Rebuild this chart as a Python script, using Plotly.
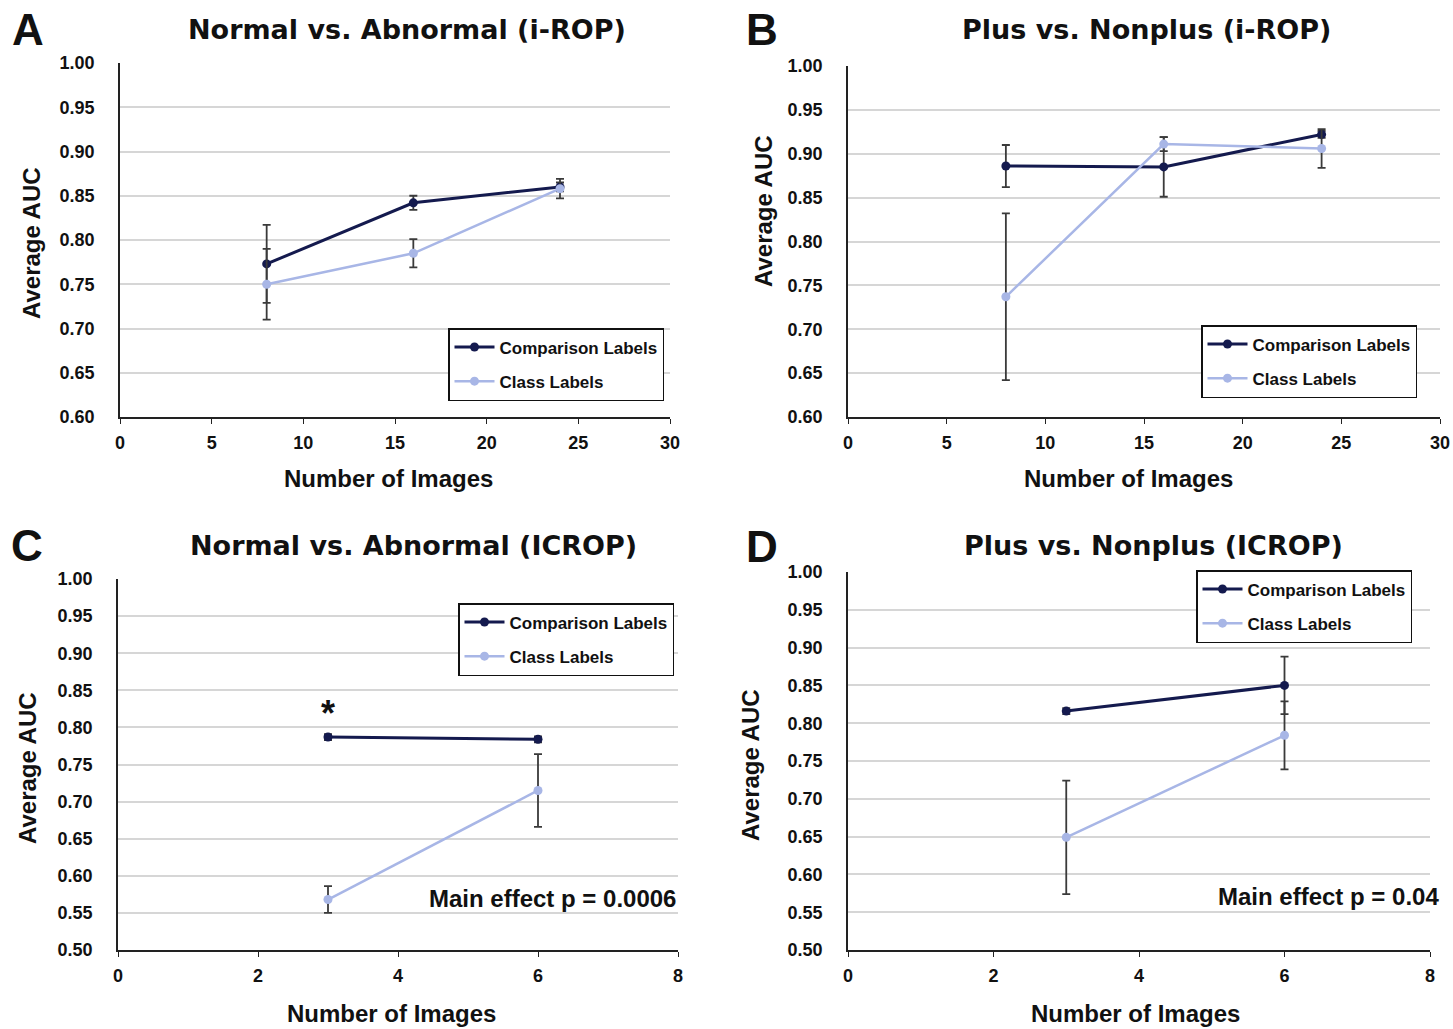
import plotly.graph_objects as go

W, H = 1453, 1029

# ---- data ----
x_irop = [8, 16, 24]
x_icrop = [3, 6]

a_comp = [0.773, 0.842, 0.860]
a_comp_err = [0.044, 0.008, 0.005]
a_class = [0.750, 0.785, 0.858]
a_class_err = [0.040, 0.016, 0.011]

b_comp = [0.886, 0.885, 0.922]
b_comp_err = [0.024, 0.034, 0.004]
b_class = [0.737, 0.911, 0.906]
b_class_err = [0.095, 0.008, 0.022]

c_comp = [0.787, 0.784]
c_comp_err = [0.004, 0.004]
c_class = [0.568, 0.715]
c_class_err = [0.018, 0.049]

d_comp = [0.816, 0.850]
d_comp_err = [0.004, 0.038]
d_class = [0.649, 0.784]
d_class_err = [0.075, 0.045]

titles = ["Normal vs. Abnormal (i-ROP)", "Plus vs. Nonplus (i-ROP)",
          "Normal vs. Abnormal (ICROP)", "Plus vs. Nonplus (ICROP)"]
letters = ["A", "B", "C", "D"]
series_names = ["Comparison Labels", "Class Labels"]

COMP = "#141a4e"
CLASS = "#a8b6e6"
ERR = "#3a3a3a"
FONT = "Liberation Sans, Arial, sans-serif"
TFONT = "DejaVu Sans, Liberation Sans, sans-serif"

def px_x(p):
    return p / W

def px_y(p):
    return 1 - p / H

# plot area pixel boxes: (x0, x1, ytop, ybottom)
boxes = [(120, 670, 63, 417), (848, 1440, 66, 417), (118, 678, 579, 950), (848, 1430, 572, 950)]
legend_boxes = [(448, 328), (1201, 325), (458, 603), (1196, 570)]
title_pos = [(407, 30), (1146, 30), (413, 545), (1153, 545)]
letter_pos = [(28, 30), (762, 30), (27, 545), (762, 546)]
ytitle_pos = [(32, 243), (763, 211), (27, 768), (750, 765)]
xtitle_pos = [(388, 479), (1128, 479), (392, 1013), (1135, 1013)]

panels = [
    (x_irop, a_comp, a_comp_err, a_class, a_class_err, [0, 30], 5, [0.6, 1.0]),
    (x_irop, b_comp, b_comp_err, b_class, b_class_err, [0, 30], 5, [0.6, 1.0]),
    (x_icrop, c_comp, c_comp_err, c_class, c_class_err, [0, 8], 2, [0.5, 1.0]),
    (x_icrop, d_comp, d_comp_err, d_class, d_class_err, [0, 8], 2, [0.5, 1.0]),
]

fig = go.Figure()
layout = dict(
    width=W, height=H, margin=dict(l=0, r=0, t=0, b=0, autoexpand=False),
    paper_bgcolor="white", plot_bgcolor="white",
    font=dict(family=FONT, color="#111111"),
    showlegend=True,
)
annotations = []

for i, (xs, comp, comp_e, cls, cls_e, xr, dt, yr) in enumerate(panels):
    n = i + 1
    xa = "x" if n == 1 else f"x{n}"
    ya = "y" if n == 1 else f"y{n}"
    leg = "legend" if n == 1 else f"legend{n}"
    for k, (name, vals, errs, col, w) in enumerate([
        (series_names[0], comp, comp_e, COMP, 3),
        (series_names[1], cls, cls_e, CLASS, 2.5),
    ]):
        fig.add_trace(go.Scatter(
            x=xs, y=vals, name=name, mode="lines+markers",
            line=dict(color=col, width=w),
            marker=dict(color=col, size=9),
            error_y=dict(type="data", array=errs, visible=True,
                         color=ERR, thickness=1.8, width=4),
            xaxis=xa, yaxis=ya, legend=leg, legendgroup=f"g{n}{k}",
        ))
    x0, x1, yt, yb = boxes[i]
    layout["xaxis" if n == 1 else f"xaxis{n}"] = dict(
        domain=[px_x(x0), px_x(x1)], range=xr, dtick=dt, tick0=0,
        showgrid=False, zeroline=False, showline=True, linecolor="#222222",
        linewidth=1.5, ticks="outside", ticklen=5, tickcolor="#222222",
        ticklabelstandoff=4,
        tickfont=dict(size=18, family=FONT, color="#111111", weight="bold"),
        anchor=ya, fixedrange=True, automargin=False,
    )
    layout["yaxis" if n == 1 else f"yaxis{n}"] = dict(
        domain=[px_y(yb), px_y(yt)], range=yr, dtick=0.05, tick0=0,
        tickformat=".2f", showgrid=True, gridcolor="#d6d6d6", gridwidth=1.8,
        zeroline=False, showline=True, linecolor="#222222", linewidth=1.5,
        ticks="", ticklabelstandoff=20,
        tickfont=dict(size=18, family=FONT, color="#111111", weight="bold"),
        anchor=xa, fixedrange=True, automargin=False,
    )
    lx, ly = legend_boxes[i]
    layout[leg] = dict(
        x=px_x(lx), y=px_y(ly), xanchor="left", yanchor="top",
        bgcolor="white", bordercolor="#111111", borderwidth=1.5,
        font=dict(size=17, family=FONT, color="#111111", weight="bold"),
        traceorder="grouped", tracegroupgap=9, itemwidth=40,
    )
    tx, ty = title_pos[i]
    annotations.append(dict(
        text=titles[i], x=px_x(tx), y=px_y(ty),
        xref="paper", yref="paper", showarrow=False, xanchor="center", yanchor="middle",
        font=dict(size=27, family=TFONT, color="#111111", weight="bold"),
    ))
    lx2, ly2 = letter_pos[i]
    annotations.append(dict(
        text=letters[i], x=px_x(lx2), y=px_y(ly2), xref="paper", yref="paper",
        showarrow=False, xanchor="center", yanchor="middle",
        font=dict(size=44, family=FONT, color="#111111", weight="bold"),
    ))
    yx, yy = ytitle_pos[i]
    annotations.append(dict(
        text="Average AUC", x=px_x(yx), y=px_y(yy), xref="paper", yref="paper",
        showarrow=False, textangle=-90, xanchor="center", yanchor="middle",
        font=dict(size=24, family=FONT, color="#111111", weight="bold"),
    ))
    xx, xy = xtitle_pos[i]
    annotations.append(dict(
        text="Number of Images", x=px_x(xx), y=px_y(xy), xref="paper", yref="paper",
        showarrow=False, xanchor="center", yanchor="middle",
        font=dict(size=24, family=FONT, color="#111111", weight="bold"),
    ))

annotations.append(dict(
    text="*", x=3, y=0.787, xref="x3", yref="y3", showarrow=False,
    yshift=24, font=dict(size=36, family=FONT, color="#111111", weight="bold"),
))
annotations.append(dict(
    text="Main effect p = 0.0006", x=8, y=0.5, xref="x3", yref="y3",
    showarrow=False, xanchor="right", yanchor="bottom", yshift=36,
    font=dict(size=24, family=FONT, color="#111111", weight="bold"),
))
annotations.append(dict(
    text="Main effect p = 0.04", x=8, y=0.5, xref="x4", yref="y4",
    showarrow=False, xanchor="right", yanchor="bottom", yshift=38, xshift=11,
    font=dict(size=24, family=FONT, color="#111111", weight="bold"),
))

layout["annotations"] = annotations
fig.update_layout(**layout)
fig.write_html(
    "out.html",
    config={"displayModeBar": False},
    post_script="document.body.style.margin='0px';document.body.style.overflow='hidden';",
)
